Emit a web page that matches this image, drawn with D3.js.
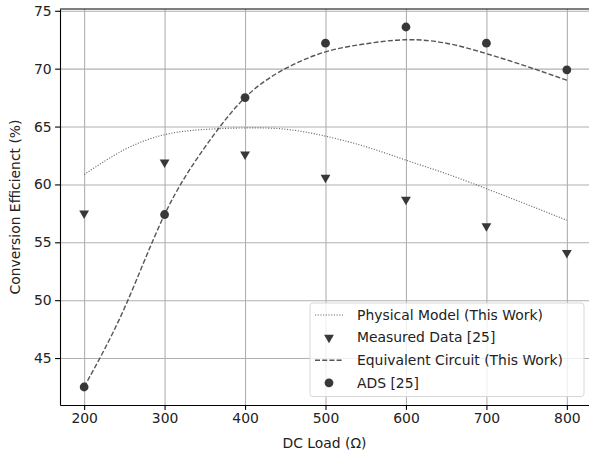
<!DOCTYPE html>
<html>
<head>
<meta charset="utf-8">
<script src="https://cdn.jsdelivr.net/npm/d3@7"></script>
<style>
  body { margin: 0; background: #fff; }
  text { font-family: "DejaVu Sans", sans-serif; }
</style>
</head>
<body>
<div id="chart"></div>
<script>
// dc load values (ohm)
const loads = [200, 300, 400, 500, 600, 700, 800];
const measured = [57.5, 61.9, 62.6, 60.6, 58.7, 56.4, 54.1];
const ads = [42.5, 57.4, 67.5, 72.2, 73.6, 72.2, 69.9];

const curveLoads = [200, 250, 300, 350, 400, 450, 500, 550, 600, 650, 700, 750, 800];
const physical = [60.85, 63.0, 64.3, 64.75, 64.88, 64.77, 64.17, 63.26, 62.1, 60.93, 59.63, 58.28, 56.9];
const equivalent = [42.5, 49.3, 57.4, 63.2, 67.5, 70.0, 71.45, 72.15, 72.5, 72.2, 71.3, 70.2, 69.0];

const xTicks = [200, 300, 400, 500, 600, 700, 800];
const yTicks = [45, 50, 55, 60, 65, 70, 75];

const W = 589, H = 457;
const margin = {top: 9, left: 60, right: -2, bottom: 52};
const iw = W - margin.left - margin.right, ih = H - margin.top - margin.bottom;

const svg = d3.select('#chart').append('svg')
  .attr('width', W).attr('height', H);

const g = svg.append('g').attr('transform', `translate(${margin.left},${margin.top})`);

// matplotlib style 5% padding
const pad = (ext) => { const r = ext[1] - ext[0]; return [ext[0] - r*0.05, ext[1] + r*0.05]; };
const x = d3.scaleLinear().domain(pad(d3.extent(loads))).range([0, iw]);
const allY = measured.concat(ads, physical, equivalent);
const y = d3.scaleLinear().domain(pad(d3.extent(allY))).range([ih, 0]);

// grid
g.append('g').attr('transform', `translate(0,${ih})`)
  .call(d3.axisBottom(x).tickValues(xTicks).tickSize(-ih).tickSizeOuter(0).tickFormat(''))
  .call(a => a.select('.domain').remove())
  .selectAll('line').attr('stroke', '#b0b0b0').attr('stroke-width', 1.1);
g.append('g')
  .call(d3.axisLeft(y).tickValues(yTicks).tickSize(-iw).tickSizeOuter(0).tickFormat(''))
  .call(a => a.select('.domain').remove())
  .selectAll('line').attr('stroke', '#b0b0b0').attr('stroke-width', 1.1);

// lines
const line = d3.line().x(d => x(d[0])).y(d => y(d[1])).curve(d3.curveNatural);

g.append('path')
  .datum(curveLoads.map((l, i) => [l, physical[i]]))
  .attr('d', line)
  .attr('fill', 'none').attr('stroke', '#666').attr('stroke-width', 1.1)
  .attr('stroke-dasharray', '1.1,1.6');

g.append('path')
  .datum(curveLoads.map((l, i) => [l, equivalent[i]]))
  .attr('d', line)
  .attr('fill', 'none').attr('stroke', '#555').attr('stroke-width', 1.4)
  .attr('stroke-dasharray', '5,2.2');

// markers
const tri = d3.symbol().type(d3.symbolTriangle).size(42);
g.selectAll('.meas').data(loads).join('path')
  .attr('class', 'meas')
  .attr('d', tri)
  .attr('transform', (d, i) => `translate(${x(d)},${y(measured[i])}) rotate(180)`)
  .attr('fill', '#383838');

g.selectAll('.ads').data(loads).join('circle')
  .attr('class', 'ads')
  .attr('cx', d => x(d)).attr('cy', (d, i) => y(ads[i]))
  .attr('r', 4.4)
  .attr('fill', '#383838');

// axes
const xAxis = g.append('g').attr('transform', `translate(0,${ih})`)
  .call(d3.axisBottom(x).tickValues(xTicks).tickSize(4.9).tickSizeOuter(0).tickPadding(3.5));
const yAxis = g.append('g')
  .call(d3.axisLeft(y).tickValues(yTicks).tickSize(4.9).tickSizeOuter(0).tickPadding(3.5));
[xAxis, yAxis].forEach(a => {
  a.select('.domain').attr('stroke', '#000').attr('stroke-width', 1.1);
  a.selectAll('line').attr('stroke', '#000').attr('stroke-width', 1.1);
  a.selectAll('text').attr('font-size', 13.9).attr('fill', '#222')
    .attr('font-family', '"DejaVu Sans", sans-serif');
});
// top spine
g.append('line').attr('x1', 0).attr('x2', iw).attr('y1', 0).attr('y2', 0)
  .attr('stroke', '#000').attr('stroke-width', 1.1);

// axis labels
svg.append('text')
  .attr('x', margin.left + iw/2 - 1).attr('y', 448)
  .attr('text-anchor', 'middle').attr('font-size', 13.9).attr('fill', '#222')
  .text('DC Load (Ω)');
svg.append('text')
  .attr('transform', `translate(20,${margin.top + ih/2}) rotate(-90)`)
  .attr('text-anchor', 'middle').attr('font-size', 13.9).attr('fill', '#222')
  .text('Conversion Efficienct (%)');

// legend
const legendItems = [
  {label: 'Physical Model (This Work)', kind: 'dot'},
  {label: 'Measured Data [25]', kind: 'tri'},
  {label: 'Equivalent Circuit (This Work)', kind: 'dash'},
  {label: 'ADS [25]', kind: 'circle'}
];
const lg = svg.append('g').attr('transform', 'translate(310,303)');
lg.append('rect')
  .attr('width', 274).attr('height', 93.5).attr('rx', 3)
  .attr('fill', 'rgba(255,255,255,0.8)').attr('stroke', '#d8d8d8');
legendItems.forEach((it, i) => {
  const cy = 12 + i * 22.6;
  const row = lg.append('g').attr('transform', `translate(0,${cy})`);
  if (it.kind === 'dot') {
    row.append('line').attr('x1', 5).attr('x2', 33).attr('stroke', '#666')
      .attr('stroke-width', 1.1).attr('stroke-dasharray', '1.1,1.6');
  } else if (it.kind === 'dash') {
    row.append('line').attr('x1', 5).attr('x2', 33).attr('stroke', '#555')
      .attr('stroke-width', 1.4).attr('stroke-dasharray', '5,2.2');
  } else if (it.kind === 'tri') {
    row.append('path').attr('d', tri).attr('transform', 'translate(19,0) rotate(180)')
      .attr('fill', '#383838');
  } else {
    row.append('circle').attr('cx', 19).attr('r', 4.4).attr('fill', '#383838');
  }
  row.append('text').attr('x', 47).attr('dy', '0.35em')
    .attr('font-size', 13.9).attr('fill', '#222').text(it.label);
});
</script>
</body>
</html>
